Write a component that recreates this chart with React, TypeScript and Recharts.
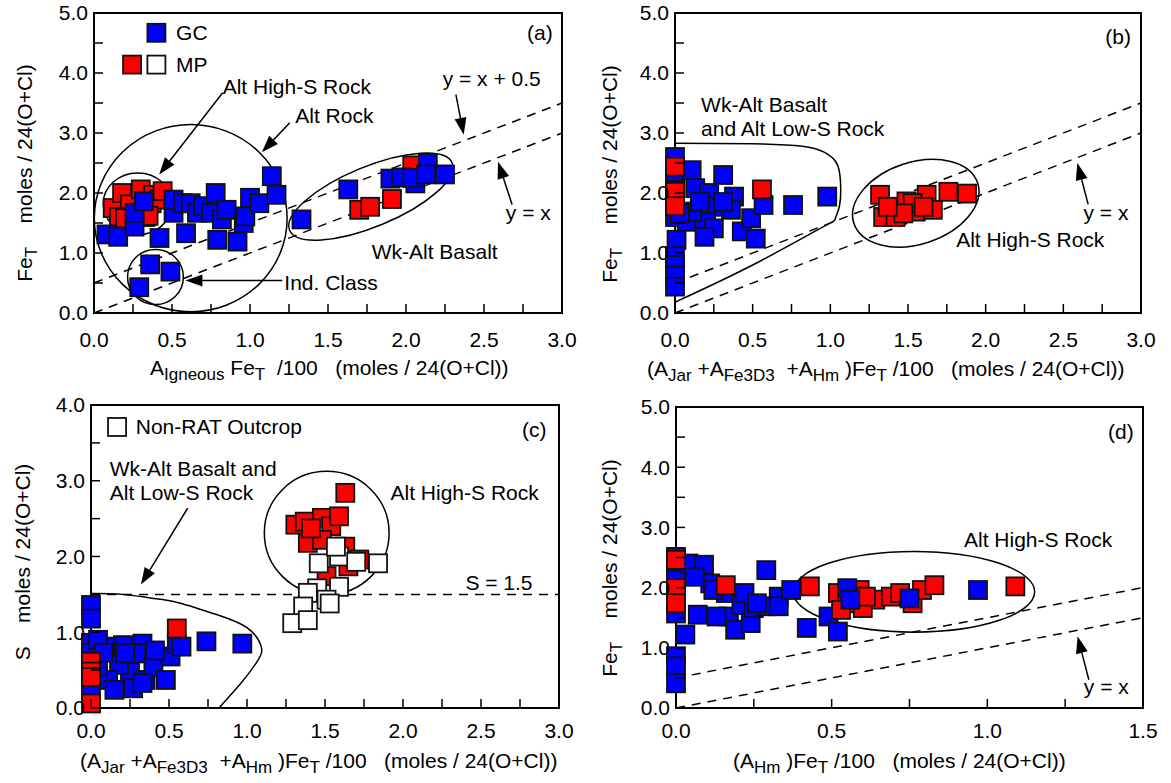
import React from 'react';
import {
  ScatterChart,
  Scatter,
  XAxis,
  YAxis,
  ReferenceLine,
  ReferenceArea,
  ReferenceDot,
} from 'recharts';

const FONT = '"Liberation Sans", Arial, Helvetica, sans-serif';
const BLUE = '#0000ff';
const RED = '#ff0000';
const WHITE = '#ffffff';

// ---- ticks and tick labels ----
const xTicks30 = [0, 0.25, 0.5, 0.75, 1, 1.25, 1.5, 1.75, 2, 2.25, 2.5, 2.75, 3];
const xLabels30 = [0, 0.5, 1, 1.5, 2, 2.5, 3];
const xTicks15 = [0, 0.25, 0.5, 0.75, 1, 1.25, 1.5];
const xLabels15 = [0, 0.5, 1, 1.5];
const yTicks50 = [0, 0.5, 1, 1.5, 2, 2.5, 3, 3.5, 4, 4.5, 5];
const yLabels50 = [0, 1, 2, 3, 4, 5];
const yTicks40 = [0, 0.5, 1, 1.5, 2, 2.5, 3, 3.5, 4];
const yLabels40 = [0, 1, 2, 3, 4];

type P = [number, number];

// ---- (a) A_Igneous Fe_T vs Fe_T ----
const aMP: P[] = [
  [0.12, 1.75], [0.18, 2.0], [0.23, 1.81], [0.27, 1.67], [0.3, 2.06], [0.37, 1.83],
  [0.38, 1.97], [0.42, 1.89], [0.44, 2.03], [0.16, 1.6], [0.33, 1.6], [0.2, 1.58],
  [0.35, 1.62], [1.7, 1.72], [1.77, 1.77], [1.91, 1.9], [2.04, 2.46],
];
const aGC: P[] = [
  [0.08, 1.31], [0.155, 1.27], [0.26, 1.44], [0.26, 1.67], [0.32, 1.86], [0.42, 1.25],
  [0.36, 0.81], [0.49, 0.69], [0.29, 0.43], [0.51, 1.67], [0.51, 1.89], [0.59, 1.33],
  [0.57, 1.83], [0.62, 1.83], [0.66, 1.67], [0.7, 1.78], [0.78, 2.0], [0.75, 1.67],
  [0.79, 1.22], [0.82, 1.56], [0.85, 1.72], [0.92, 1.19], [0.96, 1.5], [0.97, 1.61],
  [1.0, 1.92], [1.06, 1.83], [1.14, 2.28], [1.17, 1.97], [1.33, 1.56], [1.63, 2.06],
  [1.9, 2.24], [1.97, 2.26], [2.06, 2.16], [2.04, 2.25], [2.14, 2.5], [2.13, 2.31],
  [2.25, 2.31],
];

// ---- (b) (A_Jar + A_Fe3D3 + A_Hm) Fe_T vs Fe_T ----
const bGC: P[] = [
  [0, 2.6], [0, 2.3], [0, 2.05], [0, 1.85], [0, 1.6], [0.01, 1.22], [0, 0.95],
  [0, 0.8], [0, 0.62], [0, 0.44], [0.107, 2.38], [0.31, 2.3], [0.13, 2.08],
  [0.22, 2.0], [0.38, 1.94], [0.27, 1.77], [0.36, 1.72], [0.075, 1.52], [0.2, 1.52],
  [0.25, 1.41], [0.19, 1.27], [0.43, 1.36], [0.49, 1.58], [0.52, 1.24], [0.57, 1.8],
  [0.76, 1.8], [0.98, 1.94], [0.11, 1.69], [0.16, 1.85], [0.31, 1.85], [0.03, 1.66],
];
const bMP: P[] = [
  [0, 2.44], [0, 2.02], [0, 1.78], [0.56, 2.06], [1.32, 1.97], [1.4, 1.74],
  [1.34, 1.6], [1.49, 1.86], [1.55, 1.69], [1.62, 1.97], [1.66, 1.72], [1.76, 2.02],
  [1.88, 1.99], [1.42, 1.6], [1.53, 1.83], [1.47, 1.66], [1.6, 1.77], [1.37, 1.77],
];
const bOutline: P[] = [
  [0, 2.83], [0.5, 2.82], [0.82, 2.78], [0.96, 2.68], [1.04, 2.5], [1.065, 2.2],
  [1.06, 1.8], [1.03, 1.56], [0.95, 1.43], [0.5, 0.8], [0, 0.18],
];

// ---- (c) (A_Jar + A_Fe3D3 + A_Hm) Fe_T vs S ----
const cGC: P[] = [
  [0, 1.36], [0, 1.18], [0, 0.86], [0, 0.73], [0, 0.46], [0, 0.24], [0.098, 0.81],
  [0.205, 0.83], [0.33, 0.85], [0.29, 0.72], [0.25, 0.48], [0.18, 0.57], [0.11, 0.37],
  [0.15, 0.24], [0.27, 0.26], [0.35, 0.37], [0.4, 0.54], [0.48, 0.37], [0.51, 0.68],
  [0.55, 0.85], [0.74, 0.88], [0.97, 0.85], [0.045, 0.9], [0.045, 0.55], [0.22, 0.72],
  [0.41, 0.76], [0.58, 0.81], [0.08, 0.73], [0.33, 0.33],
];
const cMP: P[] = [
  [0, 0.61], [0, 0.48], [0, 0.41], [0, 0.06], [0.55, 1.05], [1.63, 2.84], [1.31, 2.42],
  [1.37, 2.46], [1.48, 2.51], [1.54, 2.4], [1.59, 2.53], [1.39, 2.18], [1.48, 2.22],
  [1.63, 2.13], [1.72, 1.96], [1.51, 1.74], [1.41, 2.37], [1.65, 1.87],
];
const cNonRat: P[] = [
  [1.84, 1.91], [1.59, 2.0], [1.46, 1.91], [1.7, 1.93], [1.57, 2.13], [1.45, 1.58],
  [1.59, 1.6], [1.51, 1.43], [1.39, 1.52], [1.36, 1.34], [1.29, 1.12], [1.39, 1.16],
  [1.53, 1.38],
];
const cOutline: P[] = [
  [0, 1.51], [0.2, 1.5], [0.39, 1.45], [0.56, 1.39], [0.81, 1.23], [1.0, 1.06],
  [1.09, 0.82], [1.07, 0.63], [0.97, 0.35], [0.82, 0.0],
];

// ---- (d) (A_Hm) Fe_T vs Fe_T ----
const dGC: P[] = [
  [0, 2.51], [0, 2.29], [0, 2.13], [0, 1.57], [0, 0.86], [0, 0.69], [0, 0.41],
  [0.03, 1.22], [0.04, 2.4], [0.09, 2.38], [0.07, 1.55], [0.11, 2.07], [0.06, 2.18],
  [0.16, 1.91], [0.17, 1.52], [0.19, 1.3], [0.21, 1.71], [0.24, 1.41], [0.25, 1.66],
  [0.29, 2.29], [0.29, 1.69], [0.33, 1.85], [0.33, 1.69], [0.37, 1.96], [0.42, 1.33],
  [0.49, 1.52], [0.52, 1.27], [0.12, 1.96], [0.22, 1.91], [0.26, 1.74], [0.13, 1.52],
];
const dMP: P[] = [
  [0, 2.46], [0, 1.99], [0, 1.74], [0.16, 2.04], [0.43, 2.02], [0.52, 1.91],
  [0.55, 1.74], [0.59, 1.96], [0.64, 1.8], [0.69, 1.85], [0.72, 1.91], [0.76, 1.74],
  [0.79, 1.96], [0.83, 2.04], [0.6, 1.66], [1.09, 2.02], [0.53, 1.63], [0.61, 1.85],
];
const dGCTop: P[] = [[0.55, 1.99], [0.56, 1.8], [0.75, 1.82], [0.97, 1.96]];

const pts = (a: P[]) => a.map(([x, y]) => ({ x, y }));

// ---- annotations (data coordinates) ----
type Txt = { x: number; y: number; t: string; end?: boolean };
type Arrow = [P, P];
type Ell = { cx: number; cy: number; rx: number; ry: number; rot: number };

const aTexts: Txt[] = [
  { x: 0.825, y: 3.77, t: 'Alt High-S Rock' },
  { x: 1.29, y: 3.29, t: 'Alt Rock' },
  { x: 2.235, y: 3.91, t: 'y = x + 0.5' },
  { x: 2.64, y: 1.67, t: 'y = x' },
  { x: 1.78, y: 1.03, t: 'Wk-Alt Basalt' },
  { x: 1.22, y: 0.51, t: 'Ind. Class' },
  { x: 2.94, y: 4.67, t: '(a)', end: true },
  { x: 0.526, y: 4.67, t: 'GC' },
  { x: 0.526, y: 4.14, t: 'MP' },
];
const aArrows: Arrow[] = [
  [[0.825, 3.67], [0.418, 2.31]],
  [[1.255, 3.17], [1.076, 2.68]],
  [[2.32, 3.64], [2.37, 2.97]],
  [[2.68, 1.81], [2.59, 2.52]],
  [[1.207, 0.54], [0.586, 0.54]],
];
const aEllipses: Ell[] = [
  { cx: 0.62, cy: 1.58, rx: 0.618, ry: 1.56, rot: 0 },
  { cx: 0.28, cy: 1.82, rx: 0.221, ry: 0.514, rot: 0 },
  { cx: 0.394, cy: 0.6, rx: 0.179, ry: 0.46, rot: 0 },
  { cx: 1.775, cy: 1.94, rx: 0.564, ry: 0.5, rot: -22.5 },
];

const bTexts: Txt[] = [
  { x: 0.168, y: 3.47, t: 'Wk-Alt Basalt' },
  { x: 0.168, y: 3.08, t: 'and Alt Low-S Rock' },
  { x: 1.81, y: 1.22, t: 'Alt High-S Rock' },
  { x: 2.63, y: 1.67, t: 'y = x' },
  { x: 2.935, y: 4.61, t: '(b)', end: true },
];
const bArrows: Arrow[] = [[[2.66, 1.81], [2.59, 2.5]]];
const bEllipses: Ell[] = [{ cx: 1.55, cy: 1.83, rx: 0.419, ry: 0.683, rot: -18 }];

const cTexts: Txt[] = [
  { x: 0.12, y: 3.16, t: 'Wk-Alt Basalt and' },
  { x: 0.12, y: 2.84, t: 'Alt Low-S Rock' },
  { x: 1.92, y: 2.84, t: 'Alt High-S Rock' },
  { x: 2.4, y: 1.65, t: 'S = 1.5' },
  { x: 0.287, y: 3.71, t: 'Non-RAT Outcrop' },
  { x: 2.92, y: 3.67, t: '(c)', end: true },
];
const cArrows: Arrow[] = [[[0.62, 2.64], [0.32, 1.63]]];
const cEllipses: Ell[] = [{ cx: 1.511, cy: 2.31, rx: 0.4, ry: 0.814, rot: 0 }];

const dTexts: Txt[] = [
  { x: 0.925, y: 2.79, t: 'Alt High-S Rock' },
  { x: 1.31, y: 0.36, t: 'y = x' },
  { x: 1.47, y: 4.59, t: '(d)', end: true },
];
const dArrows: Arrow[] = [[[1.326, 0.47], [1.29, 1.19]]];
const dEllipses: Ell[] = [{ cx: 0.764, cy: 1.93, rx: 0.388, ry: 0.67, rot: 0 }];

// ---- shapes ----
const SQ = 18;
const square = (fill: string) => (props: any) => (
  <rect
    x={props.cx - SQ / 2}
    y={props.cy - SQ / 2}
    width={SQ}
    height={SQ}
    fill={fill}
    stroke="#111"
    strokeWidth={1.8}
  />
);

const arrowShape = (p: any) => {
  const { x1, y1, x2, y2 } = p;
  const ang = Math.atan2(y2 - y1, x2 - x1);
  const L = 17;
  const W = 6;
  const bx = x2 - L * Math.cos(ang);
  const by = y2 - L * Math.sin(ang);
  const px = -Math.sin(ang) * W;
  const py = Math.cos(ang) * W;
  return (
    <g>
      <line x1={x1} y1={y1} x2={bx} y2={by} stroke="#000" strokeWidth={1.5} />
      <polygon points={`${x2},${y2} ${bx + px},${by + py} ${bx - px},${by - py}`} fill="#000" />
    </g>
  );
};

const ellipseShape = (rot: number) => (p: any) => {
  const cx = p.x + p.width / 2;
  const cy = p.y + p.height / 2;
  return (
    <ellipse
      cx={cx}
      cy={cy}
      rx={Math.abs(p.width) / 2}
      ry={Math.abs(p.height) / 2}
      transform={`rotate(${rot} ${cx} ${cy})`}
      fill="none"
      stroke="#000"
      strokeWidth={1.5}
    />
  );
};

const textShape = (t: string, end?: boolean) => (p: any) => (
  <text
    x={p.cx}
    y={p.cy}
    dy="0.35em"
    textAnchor={end ? 'end' : 'start'}
    fontSize={21}
    fontFamily={FONT}
    fill="#000"
  >
    {t}
  </text>
);

const XTick = ({ x, y, payload, labels, dy }: any) => {
  const v = payload.value;
  return (
    <g>
      <line x1={x} x2={x} y1={y} y2={y - 9} stroke="#000" strokeWidth={1.5} />
      {labels.includes(v) && (
        <text x={x} y={y + dy} textAnchor="middle" fontSize={21} fontFamily={FONT} fill="#000">
          {v.toFixed(1)}
        </text>
      )}
    </g>
  );
};

const YTick = ({ x, y, payload, labels }: any) => {
  const v = payload.value;
  return (
    <g>
      <line x1={x} x2={x + 9} y1={y} y2={y} stroke="#000" strokeWidth={1.5} />
      {labels.includes(v) && (
        <text x={x - 6} y={y} dy="0.35em" textAnchor="end" fontSize={21} fontFamily={FONT} fill="#000">
          {v.toFixed(1)}
        </text>
      )}
    </g>
  );
};

type PanelProps = {
  left: number;
  top: number;
  width: number;
  height: number;
  margin: { top: number; right: number; bottom: number; left: number };
  xMax: number;
  yMax: number;
  xTicks: number[];
  xLabels: number[];
  yTicks: number[];
  yLabels: number[];
  xLabelDy: number;
  children: React.ReactNode;
};

function Panel(p: PanelProps) {
  return (
    <div style={{ position: 'absolute', left: p.left, top: p.top }}>
      <ScatterChart width={p.width} height={p.height} margin={p.margin}>
        <XAxis
          type="number"
          dataKey="x"
          domain={[0, p.xMax]}
          ticks={p.xTicks}
          interval={0}
          tickSize={0}
          tickMargin={0}
          tickLine={false}
          height={50}
          axisLine={{ stroke: '#000', strokeWidth: 2 }}
          tick={(t: any) => <XTick {...t} labels={p.xLabels} dy={p.xLabelDy} />}
        />
        <YAxis
          type="number"
          dataKey="y"
          domain={[0, p.yMax]}
          ticks={p.yTicks}
          interval={0}
          tickSize={0}
          tickMargin={0}
          tickLine={false}
          width={60}
          axisLine={{ stroke: '#000', strokeWidth: 2 }}
          tick={(t: any) => <YTick {...t} labels={p.yLabels} />}
        />
        <ReferenceArea
          x1={0}
          x2={p.xMax}
          y1={0}
          y2={p.yMax}
          fill="none"
          fillOpacity={0}
          stroke="#000"
          strokeWidth={2}
          ifOverflow="visible"
        />
        {p.children}
      </ScatterChart>
    </div>
  );
}

const dashed = (segs: Arrow[]) =>
  segs.map((s, i) => (
    <ReferenceLine
      key={'d' + i}
      segment={[{ x: s[0][0], y: s[0][1] }, { x: s[1][0], y: s[1][1] }]}
      stroke="#000"
      strokeWidth={1.5}
      strokeDasharray="9 7"
      ifOverflow="visible"
    />
  ));

const ellipses = (list: Ell[]) =>
  list.map((e, i) => (
    <ReferenceArea
      key={'e' + i}
      x1={e.cx - e.rx}
      x2={e.cx + e.rx}
      y1={e.cy - e.ry}
      y2={e.cy + e.ry}
      ifOverflow="visible"
      shape={ellipseShape(e.rot)}
    />
  ));

const arrows = (list: Arrow[]) =>
  list.map((a, i) => (
    <ReferenceLine
      key={'a' + i}
      segment={[{ x: a[0][0], y: a[0][1] }, { x: a[1][0], y: a[1][1] }]}
      ifOverflow="visible"
      shape={arrowShape}
    />
  ));

const texts = (list: Txt[]) =>
  list.map((t, i) => (
    <ReferenceDot key={'t' + i} x={t.x} y={t.y} r={0} ifOverflow="visible" shape={textShape(t.t, t.end)} />
  ));

const legendSquare = (x: number, y: number, fill: string, k: string) => (
  <ReferenceDot key={k} x={x} y={y} r={0} ifOverflow="visible" shape={square(fill)} />
);

const outline = (data: P[]) => (
  <Scatter
    data={pts(data)}
    line={{ stroke: '#000', strokeWidth: 1.5, fill: 'none' }}
    lineJointType="natural"
    shape={() => <g />}
    isAnimationActive={false}
  />
);

const series = (data: P[], fill: string) => (
  <Scatter data={pts(data)} shape={square(fill)} isAnimationActive={false} />
);

const SUB = 5;
const subSize = 17;

export default function App() {
  return (
    <div
      style={{
        position: 'fixed',
        left: 0,
        top: 0,
        width: 1171,
        height: 783,
        background: '#fff',
        fontFamily: FONT,
      }}
    >
      {/* (a) */}
      <Panel
        left={0}
        top={0}
        width={585}
        height={390}
        margin={{ top: 13, right: 23, bottom: 27, left: 34 }}
        xMax={3}
        yMax={5}
        xTicks={xTicks30}
        xLabels={xLabels30}
        yTicks={yTicks50}
        yLabels={yLabels50}
        xLabelDy={34}
      >
        {dashed([[[0, 0], [3, 3]], [[0, 0.5], [3, 3.5]]])}
        {ellipses(aEllipses)}
        {series(aMP, RED)}
        {series(aGC, BLUE)}
        {arrows(aArrows)}
        {texts(aTexts)}
        {legendSquare(0.4, 4.67, BLUE, 'l1')}
        {legendSquare(0.244, 4.14, RED, 'l2')}
        {legendSquare(0.4, 4.14, WHITE, 'l3')}
      </Panel>

      {/* (b) */}
      <Panel
        left={585}
        top={0}
        width={586}
        height={390}
        margin={{ top: 13, right: 30, bottom: 27, left: 30 }}
        xMax={3}
        yMax={5}
        xTicks={xTicks30}
        xLabels={xLabels30}
        yTicks={yTicks50}
        yLabels={yLabels50}
        xLabelDy={34}
      >
        {dashed([[[0, 0], [3, 3]], [[0, 0.5], [3, 3.5]]])}
        {ellipses(bEllipses)}
        {outline(bOutline)}
        {series(bGC, BLUE)}
        {series(bMP, RED)}
        {arrows(bArrows)}
        {texts(bTexts)}
      </Panel>

      {/* (c) */}
      <Panel
        left={0}
        top={390}
        width={585}
        height={393}
        margin={{ top: 15, right: 26, bottom: 25, left: 31 }}
        xMax={3}
        yMax={4}
        xTicks={xTicks30}
        xLabels={xLabels30}
        yTicks={yTicks40}
        yLabels={yLabels40}
        xLabelDy={30}
      >
        {dashed([[[0, 1.5], [3, 1.5]]])}
        {ellipses(cEllipses)}
        {outline(cOutline)}
        {series(cGC, BLUE)}
        {series(cMP, RED)}
        {series(cNonRat, WHITE)}
        {arrows(cArrows)}
        {texts(cTexts)}
        {legendSquare(0.167, 3.71, WHITE, 'l4')}
      </Panel>

      {/* (d) */}
      <Panel
        left={585}
        top={390}
        width={586}
        height={393}
        margin={{ top: 17, right: 28, bottom: 25, left: 31 }}
        xMax={1.5}
        yMax={5}
        xTicks={xTicks15}
        xLabels={xLabels15}
        yTicks={yTicks50}
        yLabels={yLabels50}
        xLabelDy={30}
      >
        {dashed([[[0, 0], [1.5, 1.5]], [[0, 0.5], [1.5, 2.0]]])}
        {ellipses(dEllipses)}
        {series(dGC, BLUE)}
        {series(dMP, RED)}
        {series(dGCTop, BLUE)}
        {arrows(dArrows)}
        {texts(dTexts)}
      </Panel>

      {/* axis titles */}
      <svg
        width={1171}
        height={783}
        style={{ position: 'absolute', left: 0, top: 0, pointerEvents: 'none' }}
        fontFamily={FONT}
        fontSize={21}
      >
        <text x={150} y={375} xmlSpace="preserve" style={{ whiteSpace: 'pre' }}>
          A<tspan dy={SUB} fontSize={subSize}>Igneous</tspan>
          <tspan dy={-SUB}> Fe</tspan>
          <tspan dy={SUB} fontSize={subSize}>T</tspan>
          <tspan dy={-SUB}>{'  /100   (moles / 24(O+Cl))'}</tspan>
        </text>
        <text x={647} y={376} xmlSpace="preserve" style={{ whiteSpace: 'pre' }}>
          (A<tspan dy={SUB} fontSize={subSize}>Jar</tspan>
          <tspan dy={-SUB}>{' +A'}</tspan>
          <tspan dy={SUB} fontSize={subSize}>Fe3D3</tspan>
          <tspan dy={-SUB}>{'  +A'}</tspan>
          <tspan dy={SUB} fontSize={subSize}>Hm</tspan>
          <tspan dy={-SUB}>{' )Fe'}</tspan>
          <tspan dy={SUB} fontSize={subSize}>T</tspan>
          <tspan dy={-SUB}>{' /100   (moles / 24(O+Cl))'}</tspan>
        </text>
        <text x={80} y={768} xmlSpace="preserve" style={{ whiteSpace: 'pre' }}>
          (A<tspan dy={SUB} fontSize={subSize}>Jar</tspan>
          <tspan dy={-SUB}>{' +A'}</tspan>
          <tspan dy={SUB} fontSize={subSize}>Fe3D3</tspan>
          <tspan dy={-SUB}>{'  +A'}</tspan>
          <tspan dy={SUB} fontSize={subSize}>Hm</tspan>
          <tspan dy={-SUB}>{' )Fe'}</tspan>
          <tspan dy={SUB} fontSize={subSize}>T</tspan>
          <tspan dy={-SUB}>{' /100   (moles / 24(O+Cl))'}</tspan>
        </text>
        <text x={733} y={768} xmlSpace="preserve" style={{ whiteSpace: 'pre' }}>
          (A<tspan dy={SUB} fontSize={subSize}>Hm</tspan>
          <tspan dy={-SUB}>{' )Fe'}</tspan>
          <tspan dy={SUB} fontSize={subSize}>T</tspan>
          <tspan dy={-SUB}>{' /100   (moles / 24(O+Cl))'}</tspan>
        </text>

        <text x={32} y={173} transform="rotate(-90 32 173)" textAnchor="middle" xmlSpace="preserve" style={{ whiteSpace: 'pre' }}>
          Fe<tspan dy={SUB} fontSize={subSize}>T</tspan>
          <tspan dy={-SUB}>{'    moles / 24(O+Cl)'}</tspan>
        </text>
        <text x={617} y={174} transform="rotate(-90 617 174)" textAnchor="middle" xmlSpace="preserve" style={{ whiteSpace: 'pre' }}>
          Fe<tspan dy={SUB} fontSize={subSize}>T</tspan>
          <tspan dy={-SUB}>{'    moles / 24(O+Cl)'}</tspan>
        </text>
        <text x={30} y={562} transform="rotate(-90 30 562)" textAnchor="middle" xmlSpace="preserve" style={{ whiteSpace: 'pre' }}>
          {'S    moles / 24(O+Cl)'}
        </text>
        <text x={617} y={568} transform="rotate(-90 617 568)" textAnchor="middle" xmlSpace="preserve" style={{ whiteSpace: 'pre' }}>
          Fe<tspan dy={SUB} fontSize={subSize}>T</tspan>
          <tspan dy={-SUB}>{'    moles / 24(O+Cl)'}</tspan>
        </text>
      </svg>
    </div>
  );
}
